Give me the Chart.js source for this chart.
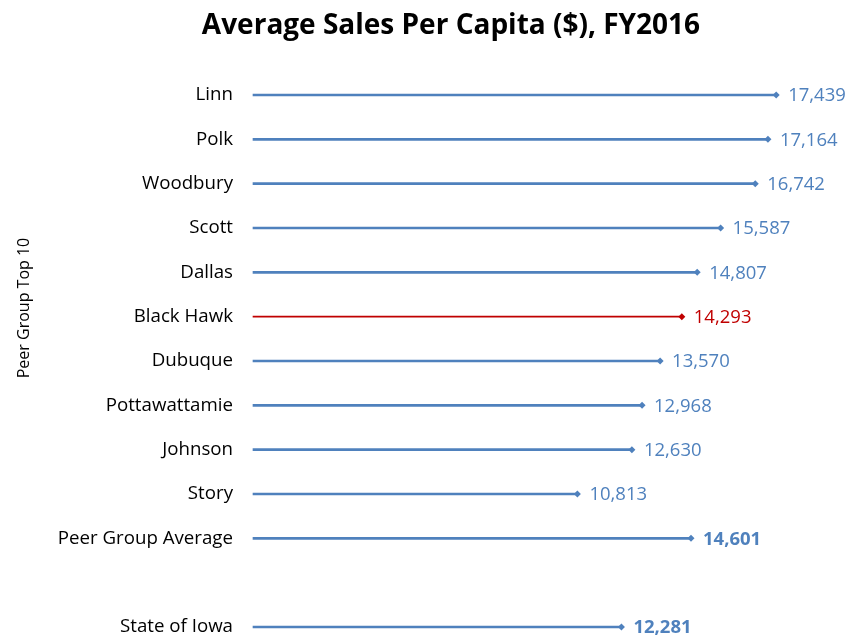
<!DOCTYPE html>
<html>
<head>
<meta charset="utf-8">
<script src="https://cdn.jsdelivr.net/npm/chart.js@4/dist/chart.umd.min.js"></script>
<style>
  html, body { margin: 0; padding: 0; background: #fff; }
  #wrap { width: 857px; height: 637px; }
</style>
</head>
<body>
<div id="wrap"><canvas id="output"></canvas></div>
<script>
// data
const categories = ['Linn', 'Polk', 'Woodbury', 'Scott', 'Dallas', 'Black Hawk', 'Dubuque',
  'Pottawattamie', 'Johnson', 'Story', 'Peer Group Average', '', 'State of Iowa']
const salesPerCapita = [17439, 17164, 16742, 15587, 14807, 14293, 13570, 12968, 12630, 10813, 14601, null, 12281]
const highlight = 'Black Hawk'
const boldRows = ['Peer Group Average', 'State of Iowa']

const BLUE = '#4F81BD'
const RED = '#C00000'
const FONT = '"Open Sans", Lato, sans-serif'

let blueVals = salesPerCapita.map((v, i) => categories[i] === highlight ? null : v)
let redVals = salesPerCapita.map((v, i) => categories[i] === highlight ? v : null)
let points = []
salesPerCapita.forEach(function (v, i) {
  if (v !== null) points.push({x: v, y: categories[i]})
})
let pointColors = points.map(p => p.y === highlight ? RED : BLUE)

// title, axis title and value labels
const textPlugin = {
  id: 'texts',
  afterDraw: function (chart) {
    const ctx = chart.ctx
    const xs = chart.scales.x
    const ys = chart.scales.y
    ctx.save()
    ctx.fillStyle = '#000'
    ctx.textAlign = 'center'
    ctx.textBaseline = 'middle'
    ctx.font = 'bold 28px ' + FONT
    ctx.fillText('Average Sales Per Capita ($), FY2016', 451, 26)

    ctx.translate(24, 308)
    ctx.rotate(-Math.PI / 2)
    ctx.font = '16px ' + FONT
    ctx.fillText('Peer Group Top 10', 0, 0)
    ctx.restore()

    ctx.save()
    ctx.textAlign = 'left'
    ctx.textBaseline = 'middle'
    salesPerCapita.forEach(function (v, i) {
      if (v === null) return
      const name = categories[i]
      ctx.fillStyle = name === highlight ? RED : BLUE
      ctx.font = (boldRows.indexOf(name) >= 0 ? 'bold ' : '') + '18.5px ' + FONT
      ctx.fillText(v.toLocaleString('en-US'), xs.getPixelForValue(v) + 12, ys.getPixelForValue(i) + 1)
    })
    ctx.restore()
  }
}

const ctx = document.getElementById('output').getContext('2d')
const myChart = new Chart(ctx, {
  type: 'bar',
  data: {
    labels: categories,
    datasets: [
      {
        type: 'line',
        data: points,
        showLine: false,
        pointStyle: 'rectRot',
        pointRadius: 3.5,
        pointBackgroundColor: pointColors,
        pointBorderColor: pointColors,
        pointBorderWidth: 0,
        clip: false,
        order: 0
      },
      {
        data: blueVals,
        backgroundColor: BLUE,
        barThickness: 2,
        grouped: false,
        clip: false,
        order: 1
      },
      {
        data: redVals,
        backgroundColor: RED,
        barThickness: 1,
        grouped: false,
        clip: false,
        order: 1
      }
    ]
  },
  options: {
    indexAxis: 'y',
    responsive: true,
    maintainAspectRatio: false,
    animation: false,
    layout: { padding: { top: 95, bottom: 10, left: 0, right: 4 } },
    plugins: {
      legend: { display: false },
      tooltip: { enabled: false },
      title: { display: false }
    },
    scales: {
      x: {
        display: false,
        min: 0,
        max: 20000
      },
      y: {
        offset: false,
        grid: { display: false },
        border: { display: false },
        afterFit: function (scale) {
          scale.width = 253
          scale.paddingTop = 0
          scale.paddingBottom = 0
        },
        ticks: {
          padding: 12,
          autoSkip: false,
          color: '#000',
          font: { family: FONT, size: 18.7 }
        }
      }
    }
  },
  plugins: [textPlugin]
})
</script>
</body>
</html>
